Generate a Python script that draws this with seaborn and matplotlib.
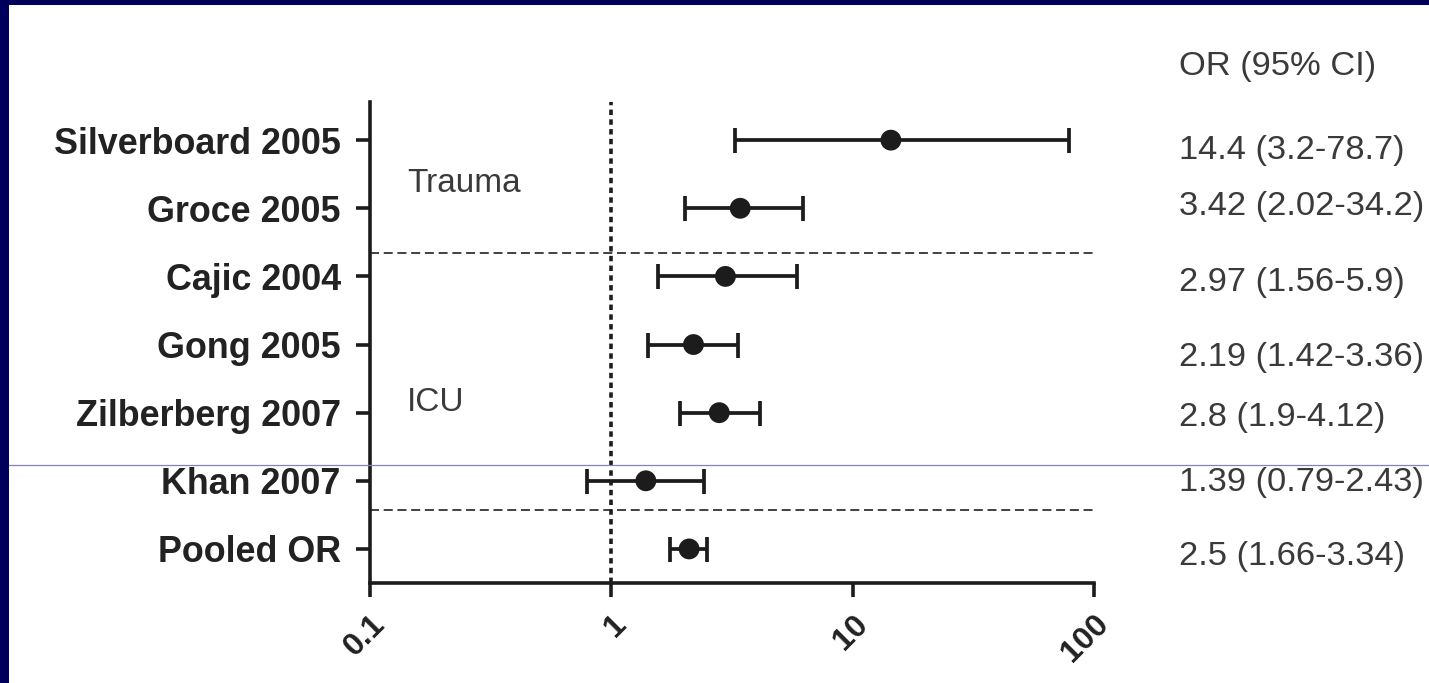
import numpy as np
import pandas as pd
import matplotlib
matplotlib.use("Agg")
import matplotlib.pyplot as plt
from matplotlib.patches import Rectangle
from matplotlib.lines import Line2D
import matplotlib.transforms as mtransforms
import seaborn as sns

# ---- data ----
studies = ["Silverboard 2005", "Groce 2005", "Cajic 2004", "Gong 2005",
           "Zilberberg 2007", "Khan 2007", "Pooled OR"]
odds_ratio = [14.4, 3.42, 2.97, 2.19, 2.8, 1.39, 2.1]
ci_low = [3.25, 2.02, 1.56, 1.42, 1.92, 0.79, 1.75]
ci_high = [79.0, 6.2, 5.9, 3.36, 4.12, 2.43, 2.5]
or_text = ["14.4 (3.2-78.7)", "3.42 (2.02-34.2)", "2.97 (1.56-5.9)",
           "2.19 (1.42-3.36)", "2.8 (1.9-4.12)", "1.39 (0.79-2.43)",
           "2.5 (1.66-3.34)"]
column_title = "OR (95% CI)"
group_labels = ["Trauma", "ICU"]
xticks = [0.1, 1, 10, 100]
xtick_labels = ["0.1", "1", "10", "100"]

df = pd.DataFrame({"study": studies, "OR": odds_ratio,
                   "lo": ci_low, "hi": ci_high})

# ---- style ----
sns.set_style("ticks")
plt.rcParams["font.family"] = ["Liberation Sans", "DejaVu Sans"]

W, H = 1429, 683
fig = plt.figure(figsize=(W / 100, H / 100), dpi=100, facecolor="#00005c")
fig.patches.append(Rectangle((9 / W, 0), 1 - 9 / W, 1 - 5 / H,
                             transform=fig.transFigure, facecolor="white",
                             edgecolor="none", zorder=-10))

ax = fig.add_axes([370 / W, 100 / H, 724 / W, 481 / H])
ax.set_facecolor("white")

ink = "#1c1c1c"
ax.errorbar(df["OR"], df["study"],
            xerr=[df["OR"] - df["lo"], df["hi"] - df["OR"]],
            fmt="none", ecolor=ink, elinewidth=2.7, capsize=9,
            capthick=2.7, zorder=3)
sns.scatterplot(data=df, x="OR", y="study", ax=ax, s=15 ** 2, color=ink,
                edgecolor="none", zorder=4, legend=False)

ax.set_xscale("log")
ax.set_xlim(0.1, 100)
ax.set_ylim(6.5, -0.56)
ax.set_xticks(xticks)
ax.set_xticklabels(xtick_labels)
ax.xaxis.set_minor_locator(matplotlib.ticker.NullLocator())
ax.set_xlabel("")
ax.set_ylabel("")

# reference lines
ax.axvline(1, color=ink, lw=2.6, linestyle=(0, (1.5, 1.2)), zorder=2)
ax.axhline(1.66, color="#333333", lw=1.3, linestyle=(0, (5, 2.6)), zorder=1)
ax.axhline(5.43, color="#333333", lw=1.3, linestyle=(0, (5, 2.6)), zorder=1)

sns.despine(ax=ax)
for s in ("left", "bottom"):
    ax.spines[s].set_linewidth(2.6)
    ax.spines[s].set_color(ink)

ax.tick_params(axis="both", length=10, width=2.6, color=ink, direction="out")
ax.tick_params(axis="y", pad=11)
ax.tick_params(axis="x", pad=9)
for lab in ax.get_yticklabels():
    lab.set_fontsize(25.8)
    lab.set_fontweight("bold")
    lab.set_color("#222222")
for lab in ax.get_xticklabels():
    lab.set_fontsize(23)
    lab.set_fontweight("bold")
    lab.set_color("#222222")
    lab.set_rotation(45)
    lab.set_ha("right")
    lab.set_va("top")
    lab.set_rotation_mode("anchor")

# group labels
trans = mtransforms.blended_transform_factory(ax.transAxes, ax.transData)
ax.text(0.051, 0.63, group_labels[0], transform=trans, fontsize=24,
        color="#3a3a3a", va="center", ha="left")
ax.text(0.051, 3.85, group_labels[1], transform=trans, fontsize=24,
        color="#3a3a3a", va="center", ha="left")

# right column
text_y_px = [150, 207, 283, 357, 417, 482, 557]
fig.text(1179 / W, 1 - 67 / H, column_title, fontsize=24.8,
         color="#3a3a3a", va="center", ha="left")
for t, ypx in zip(or_text, text_y_px):
    fig.text(1179 / W, 1 - ypx / H, t, fontsize=24.8, color="#3a3a3a",
             va="center", ha="left")

# thin artefact line across the slide
fig.add_artist(Line2D([9 / W, 1], [1 - 465 / H, 1 - 465 / H],
                      transform=fig.transFigure, color="#8282b8",
                      lw=0.9, zorder=20))

fig.savefig("out.png", dpi=100, facecolor=fig.get_facecolor())
